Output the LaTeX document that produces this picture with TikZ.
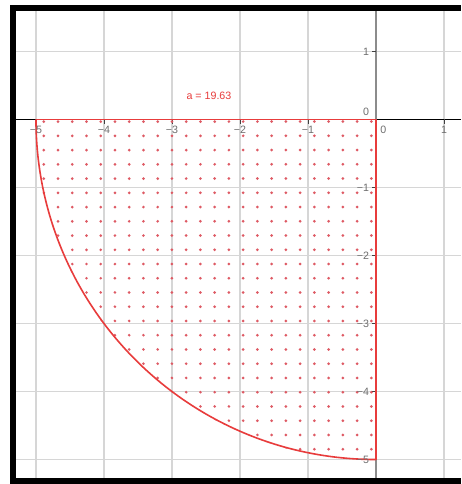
\documentclass[tikz,border=0pt]{standalone}
\usepackage{fontspec}
\setmainfont{Liberation Sans}
\definecolor{gridc}{RGB}{214,214,214}
\definecolor{regc}{RGB}{232,60,60}
\definecolor{dotc}{RGB}{222,90,100}
\definecolor{labc}{RGB}{110,110,110}
\definecolor{yaxc}{RGB}{140,140,140}
\tikzset{
  gridline/.style={draw=gridc, line width=1pt},
  regline/.style={draw=regc, line width=1.2pt},
  ticklab/.style={font=\fontsize{8}{9}\selectfont, text=labc, inner sep=1pt},
  tickmark/.style={draw=black!75, line width=0.6pt},
  frameband/.style={fill=black}
}
\begin{document}
\begin{tikzpicture}[x=51pt,y=51pt]
\useasboundingbox (-5.529,-5.360) rectangle (1.25,1.757);
\fill[white] (-5.529,-5.360) rectangle (1.25,1.757);
% grid
\foreach \x in {-5,...,1} \draw[gridline] (\x,-5.265) -- (\x,1.596);
\foreach \y in {1,-1,-2,-3,-4,-5} \draw[gridline] (-5.294,\y) -- (1.25,\y);
% axes
\draw[draw=yaxc, line width=1.1pt] (0,-5.265) -- (0,1.596);
\draw[draw=black, line width=1.1pt] (-5.294,0) -- (1.25,0);
% ticks
\foreach \x in {-5,...,1} \draw[tickmark] (\x,0) -- (\x,-0.06);
\foreach \y in {1,-1,-2,-3,-4,-5} \draw[tickmark] (0,\y) -- (-0.06,\y);
% dots
\begin{scope}
  \clip (0.02,0.02) -- (-5.02,0.02) arc (180:270:5.04) -- (0.02,-5.02) -- cycle;
  \foreach \k in {-10,...,14}
    \foreach \j in {0,...,24}
      \fill[dotc] ({-3+0.2095*\k},{-0.03-0.2095*\j}) circle (0.022);
\end{scope}
% region boundary
\draw[regline] (-5,0) -- (0,0) -- (0,-5);
\draw[regline] (-5,0) arc (180:270:5);
% labels
\foreach \x/\t in {-5/−5,-4/−4,-3/−3,-2/−2,-1/−1}
  \node[ticklab, anchor=north] (xl\x) at (\x,-0.08) {\t};
\node[ticklab, anchor=north west] (xl0) at (0.04,-0.08) {0};
\node[ticklab, anchor=north] (xl1) at (1,-0.08) {1};
\foreach \y/\t in {1/1,-1/−1,-2/−2,-3/−3,-4/−4,-5/−5}
  \node[ticklab, anchor=east] (yl\y) at (-0.08,\y) {\t};
\node[ticklab, anchor=south east] (yl0) at (-0.08,0.03) {0};
\node[font=\fontsize{8}{9}\selectfont, text=regc, inner sep=0pt] (area) at (-2.456,0.346) {a = 19.63};
% frame
\fill[frameband] (-5.382,-5.360) rectangle (-5.294,1.684);
\fill[frameband] (-5.382,1.596) rectangle (1.25,1.684);
\fill[frameband] (-5.382,-5.360) rectangle (1.25,-5.265);
\end{tikzpicture}
\end{document}
